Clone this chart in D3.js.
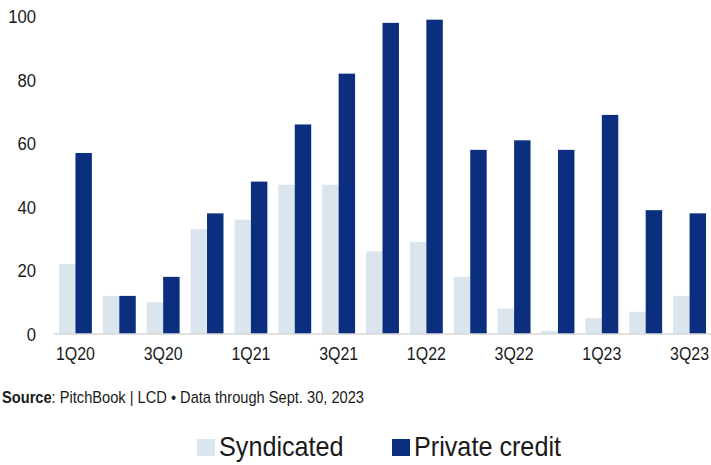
<!DOCTYPE html>
<html>
<head>
<meta charset="utf-8">
<script src="https://cdn.jsdelivr.net/npm/d3@7"></script>
<style>
  html, body { margin: 0; padding: 0; background: #fff; }
  svg { display: block; }
  text { font-family: "Liberation Sans", Arial, sans-serif; }
</style>
</head>
<body>
<svg id="chart" width="711" height="465"></svg>
<script>
// Quarterly deal counts: syndicated vs. private credit
const quarters = ["1Q20","2Q20","3Q20","4Q20","1Q21","2Q21","3Q21","4Q21",
                  "1Q22","2Q22","3Q22","4Q22","1Q23","2Q23","3Q23"];
const syndicated    = [22, 12, 10, 33, 36, 47, 47, 26, 29, 18, 8, 1, 5, 7, 12];
const privateCredit = [57, 12, 18, 38, 48, 66, 82, 98, 99, 58, 61, 58, 69, 39, 38];
const seriesNames   = ["Syndicated", "Private credit"];
const seriesColors  = ["#dbe5ee", "#0b2f7e"];
const yTicks        = [0, 20, 40, 60, 80, 100];
const xTickLabels   = ["1Q20","3Q20","1Q21","3Q21","1Q22","3Q22","1Q23","3Q23"];

const svg = d3.select("#chart");

// condensed look: squeeze text horizontally around its anchor x
function squeeze(sel, s) {
  sel.attr("transform", function () {
    const ax = +this.getAttribute("x") || 0;
    return `translate(${ax},0) scale(${s},1) translate(${-ax},0)`;
  });
}

const x = d3.scaleBand()
  .domain(quarters)
  .range([53.5, 711.5])
  .paddingInner(0.25)
  .paddingOuter(0.125);

const xSub = d3.scaleBand()
  .domain(seriesNames)
  .range([0, x.bandwidth()]);

const y = d3.scaleLinear().domain([0, 100]).range([334, 16.5]);

const rows = quarters.map((q, i) => ({ q, values: [syndicated[i], privateCredit[i]] }));

// bars
const groups = svg.append("g").selectAll("g")
  .data(rows).join("g")
  .attr("transform", d => `translate(${x(d.q)},0)`);

groups.selectAll("rect")
  .data(d => d.values.map((v, k) => ({ v, k })))
  .join("rect")
  .attr("x", d => xSub(seriesNames[d.k]))
  .attr("width", xSub.bandwidth())
  .attr("y", d => y(d.v))
  .attr("height", d => y(0) - y(d.v))
  .attr("fill", d => seriesColors[d.k]);

// baseline
svg.append("line")
  .attr("x1", 54).attr("x2", 711)
  .attr("y1", y(0)).attr("y2", y(0))
  .attr("stroke", "#d9d9d9").attr("stroke-width", 1.5);

// y axis labels
const yAxis = d3.axisLeft(y).tickValues(yTicks).tickSize(0).tickPadding(0);
const yG = svg.append("g").attr("transform", "translate(36,0)").call(yAxis);
yG.select(".domain").remove();
yG.selectAll("text")
  .attr("font-size", 19)
  .attr("font-family", "Liberation Sans, Arial, sans-serif")
  .attr("fill", "#1a1a1a")
  .call(squeeze, 0.88);

// x axis labels
const xAxis = d3.axisBottom(x)
  .tickValues(xTickLabels)
  .tickSize(0).tickPadding(0);
const xG = svg.append("g").attr("transform", "translate(0,346)").call(xAxis);
xG.select(".domain").remove();
xG.selectAll("text")
  .attr("font-size", 19)
  .attr("font-family", "Liberation Sans, Arial, sans-serif")
  .attr("fill", "#1a1a1a")
  .attr("dy", "0.71em")
  .call(squeeze, 0.84);

// source line
const src = svg.append("text")
  .attr("x", 2).attr("y", 403)
  .attr("font-size", 16)
  .attr("fill", "#1a1a1a");
src.append("tspan").attr("font-weight", "bold").text("Source");
src.append("tspan").text(": PitchBook | LCD • Data through Sept. 30, 2023");
src.call(squeeze, 0.915);

// legend
const legendX = [197, 392];
const legend = svg.append("g").selectAll("g")
  .data(seriesNames).join("g")
  .attr("transform", (d, i) => `translate(${legendX[i]},0)`);
legend.append("rect")
  .attr("x", 0).attr("y", 439).attr("width", 18).attr("height", 17)
  .attr("fill", (d, i) => seriesColors[i]);
legend.append("text")
  .attr("x", 22).attr("y", 456)
  .attr("font-size", 28)
  .attr("fill", "#1a1a1a")
  .text(d => d)
  .call(squeeze, 0.9);
</script>
</body>
</html>
